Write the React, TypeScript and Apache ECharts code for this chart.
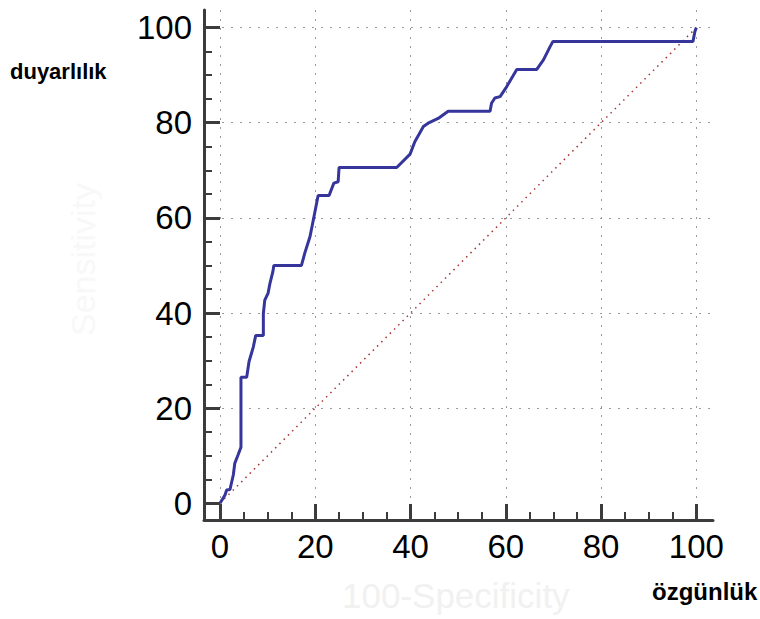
import React, { useEffect, useRef } from "react";
import * as echarts from "echarts";

// ROC curve points: [100-Specificity, Sensitivity]
const rocX = [0, 1.05, 1.4, 2.1, 2.8, 3.1, 3.8, 4.4, 4.4, 5.6, 6.1, 7.0, 7.5, 9.1, 9.1, 9.4, 10.1, 10.5, 11.1, 11.3, 17.1, 17.8, 18.9, 19.6, 20.6, 22.9, 23.9, 24.8, 25.0, 37.1, 39.9, 40.9, 42.7, 43.7, 45.8, 47.9, 56.7, 57.0, 57.7, 58.8, 60.2, 62.3, 66.5, 67.9, 69.3, 69.9, 99.3, 99.7, 100];
const rocY = [0, 1.75, 2.8, 2.9, 6.0, 8.4, 10.2, 11.8, 26.5, 26.5, 29.8, 32.9, 35.3, 35.3, 39.9, 42.7, 44.2, 46.3, 48.7, 50.0, 50.0, 52.6, 56.1, 59.6, 64.7, 64.7, 67.3, 67.6, 70.6, 70.6, 73.4, 76.0, 79.2, 79.9, 80.9, 82.4, 82.4, 84.1, 85.2, 85.5, 87.6, 91.2, 91.2, 93.2, 96.0, 97.1, 97.1, 99.2, 100];
const diagX = [0, 100];
const diagY = [0, 100];
const majorTicks = [0, 20, 40, 60, 80, 100];
const minorTicks = [0, 5, 10, 15, 20, 25, 30, 35, 40, 45, 50, 55, 60, 65, 70, 75, 80, 85, 90, 95, 100];
const yAxisTitle = "duyarlılık";
const xAxisTitle = "özgünlük";
const ghostX = "100-Specificity";
const ghostY = "Sensitivity";

export default function App() {
  const ref = useRef<HTMLDivElement>(null);
  useEffect(() => {
    if (!ref.current) return;
    const chart = echarts.init(ref.current, null, { renderer: "svg" });
    const axisColor = "#3c3c3c";
    const font = "Liberation Sans, Arial, sans-serif";
    const xMin = -3.36, xMax = 103.5, yMin = -3.51, yMax = 103.7;
    const gridLine = { show: true, lineStyle: { color: "#9a9a9a", type: [2, 7], width: 1 } };
    const roc = rocX.map((x, i) => [x, rocY[i]]);
    const diag = diagX.map((x, i) => [x, diagY[i]]);
    chart.setOption({
      animation: false,
      backgroundColor: "#ffffff",
      grid: { left: 204, right: 47, top: 10, bottom: 99 },
      xAxis: [
        {
          type: "value", min: xMin, max: xMax, position: "bottom",
          axisLine: { show: true, onZero: false, lineStyle: { color: axisColor, width: 3 } },
          axisTick: { show: true, inside: true, length: 8, customValues: minorTicks, lineStyle: { color: axisColor, width: 2 } },
          axisLabel: { show: true, customValues: majorTicks, margin: 10, fontSize: 33, color: "#000", fontFamily: font },
          splitLine: { show: false },
        },
        {
          type: "value", min: xMin, max: xMax, position: "bottom",
          axisLine: { show: false, onZero: false },
          axisTick: { show: true, inside: true, length: 16, customValues: majorTicks, lineStyle: { color: axisColor, width: 3 } },
          axisLabel: { show: false },
          splitLine: gridLine,
        },
      ],
      yAxis: [
        {
          type: "value", min: yMin, max: yMax, position: "left",
          axisLine: { show: true, onZero: false, lineStyle: { color: axisColor, width: 3 } },
          axisTick: { show: true, inside: true, length: 8, customValues: minorTicks, lineStyle: { color: axisColor, width: 2 } },
          axisLabel: { show: true, customValues: majorTicks, margin: 12, fontSize: 33, color: "#000", fontFamily: font },
          splitLine: { show: false },
        },
        {
          type: "value", min: yMin, max: yMax, position: "left",
          axisLine: { show: false, onZero: false },
          axisTick: { show: true, inside: true, length: 16, customValues: majorTicks, lineStyle: { color: axisColor, width: 3 } },
          axisLabel: { show: false },
          splitLine: { show: true, lineStyle: { color: ["rgba(0,0,0,0)", "#9a9a9a", "#9a9a9a", "#9a9a9a", "#9a9a9a", "#9a9a9a"], type: [2, 7], width: 1 } },
        },
      ],
      series: [
        {
          type: "line", data: diag, xAxisIndex: 0, yAxisIndex: 0, showSymbol: false, silent: true,
          lineStyle: { color: "#a83232", width: 1.5, type: [1.5, 4.5] }, z: 2,
        },
        {
          type: "line", data: roc, xAxisIndex: 0, yAxisIndex: 0, showSymbol: false, silent: true,
          lineStyle: { color: "#35359b", width: 3 }, z: 3,
        },
      ],
      graphic: [
        { type: "text", left: 66, top: 183, rotation: Math.PI / 2, z: -1,
          style: { text: ghostY, fill: "#f8f8f8", font: "34px " + font } },
        { type: "text", left: 342, top: 578, z: -1,
          style: { text: ghostX, fill: "#f1f1f1", font: "35px " + font } },
        { type: "text", left: 10, top: 60,
          style: { text: yAxisTitle, fill: "#000", font: "bold 22px " + font } },
        { type: "text", left: 652, top: 579,
          style: { text: xAxisTitle, fill: "#000", font: "bold 24px " + font } },
      ],
    });
    return () => chart.dispose();
  }, []);
  return <div ref={ref} style={{ position: "fixed", left: 0, top: 0, width: 760, height: 619, background: "#fff" }} />;
}
